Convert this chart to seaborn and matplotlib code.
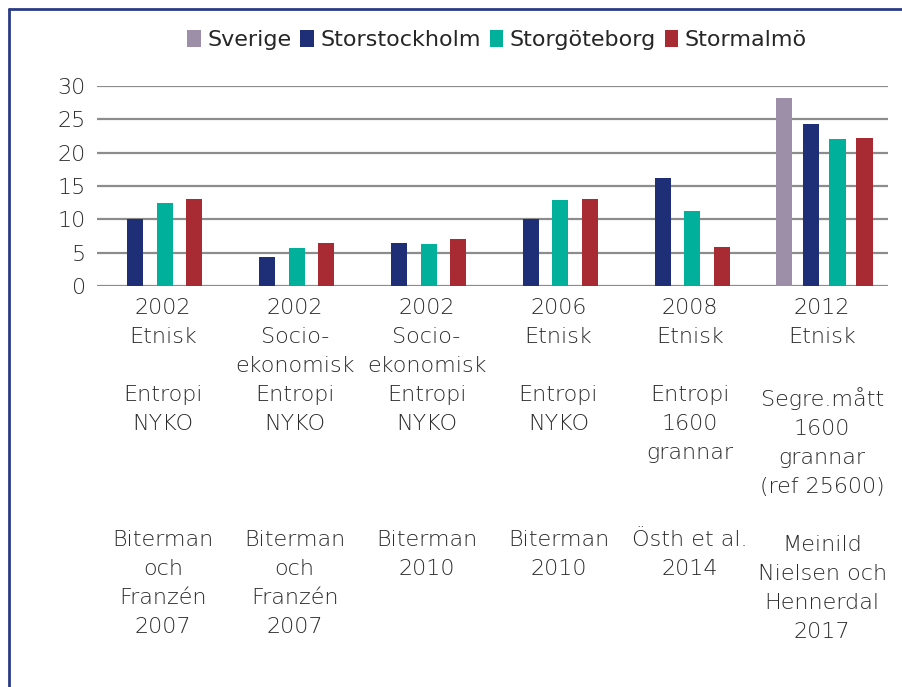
import numpy as np
import pandas as pd
import matplotlib
matplotlib.use("Agg")
import matplotlib.pyplot as plt
from matplotlib.lines import Line2D
from matplotlib.patches import Patch
import seaborn as sns

# ---------------- data ----------------
series = ["Sverige", "Storstockholm", "Storgöteborg", "Stormalmö"]
colors = ["#9e8fa8", "#1e2f78", "#00b09b", "#a82a32"]

sverige       = [np.nan, np.nan, np.nan, np.nan, np.nan, 28.2]
storstockholm = [10.0, 4.3, 6.4, 10.0, 16.2, 24.3]
storgoteborg  = [12.4, 5.7, 6.3, 12.9, 11.2, 22.0]
stormalmo     = [13.0, 6.4, 7.0, 13.0, 5.8, 22.2]

years   = ["2002", "2002", "2002", "2006", "2008", "2012"]
types   = [["Etnisk", ""], ["Socio-", "ekonomisk"], ["Socio-", "ekonomisk"],
           ["Etnisk", ""], ["Etnisk", ""], ["Etnisk", ""]]
methods = [["Entropi", "NYKO"], ["Entropi", "NYKO"], ["Entropi", "NYKO"],
           ["Entropi", "NYKO"], ["Entropi", "1600", "grannar"],
           ["Segre.mått", "1600", "grannar", "(ref 25600)"]]
sources = [["Biterman", "och", "Franzén", "2007"], ["Biterman", "och", "Franzén", "2007"],
           ["Biterman", "2010"], ["Biterman", "2010"], ["Östh et al.", "2014"],
           ["Meinild", "Nielsen och", "Hennerdal", "2017"]]

def make_label(i):
    m = methods[i] + [""] * (4 - len(methods[i]))
    s = sources[i] + [""] * (4 - len(sources[i]))
    return "\n".join([years[i]] + types[i] + m + [""] + s)

labels = [make_label(i) for i in range(len(years))]

# long table; bars of each group centred on its category
values = [sverige, storstockholm, storgoteborg, stormalmo]
rows = []
for g in range(len(years)):
    present = [k for k in range(len(series)) if not np.isnan(values[k][g])]
    n = len(present)
    step = 0.2235 if n == 3 else 0.2045
    for j, k in enumerate(present):
        rows.append({"pos": g + 0.015 + (j - (n - 1) / 2) * step,
                     "serie": series[k], "value": values[k][g]})
df = pd.DataFrame(rows)

# ---------------- plot ----------------
sns.set_style("white")
plt.rcParams["font.family"] = ["DejaVu Sans"]

fig = plt.figure(figsize=(9.02, 6.87), dpi=100)
ax = fig.add_axes([97 / 902, 1 - 286 / 687, 791 / 902, 200 / 687])

min_step = np.min(np.diff(np.unique(df["pos"].values)))
sns.barplot(data=df, x="pos", y="value", hue="serie", hue_order=series,
            palette=colors, native_scale=True, dodge=False,
            width=0.122 / min_step, errorbar=None, legend=False,
            saturation=1, linewidth=0, edgecolor="none", ax=ax, zorder=3)

ax.set_xlim(-0.5, 5.5)
ax.set_ylim(0, 30)
ax.set_yticks([0, 5, 10, 15, 20, 25, 30])
ax.set_xticks(range(len(labels)))
ax.set_xticklabels(labels, linespacing=1.56, fontsize=16, color="#2a2a2a",
                   fontweight="light")
ax.set_yticklabels([str(v) for v in [0, 5, 10, 15, 20, 25, 30]],
                   fontsize=16, color="#2a2a2a", fontweight="light")
ax.tick_params(axis="y", length=0, pad=8)
ax.tick_params(axis="x", length=0, pad=9)
ax.set_xlabel("")
ax.set_ylabel("")
for sp in ax.spines.values():
    sp.set_visible(False)
ax.yaxis.grid(True, color="#8c8c8c", linewidth=1.6, zorder=1)
ax.set_axisbelow(True)

handles = [Patch(facecolor=c, edgecolor="none") for c in colors]
fig.legend(handles, series, loc="center", bbox_to_anchor=(497 / 902, 1 - 40 / 687),
           ncol=4, frameon=False, handlelength=0.6, handleheight=0.8,
           handletextpad=0.3, columnspacing=0.4,
           prop={"family": ["Liberation Sans Narrow", "DejaVu Sans"], "size": 16})

# navy frame (top and left)
navy = "#2b3b87"
fig.add_artist(Line2D([9 / 902, 1], [1 - 9 / 687, 1 - 9 / 687], color=navy, lw=2))
fig.add_artist(Line2D([9 / 902, 9 / 902], [0, 1 - 9 / 687], color=navy, lw=2))

fig.savefig("out.png", dpi=100)
